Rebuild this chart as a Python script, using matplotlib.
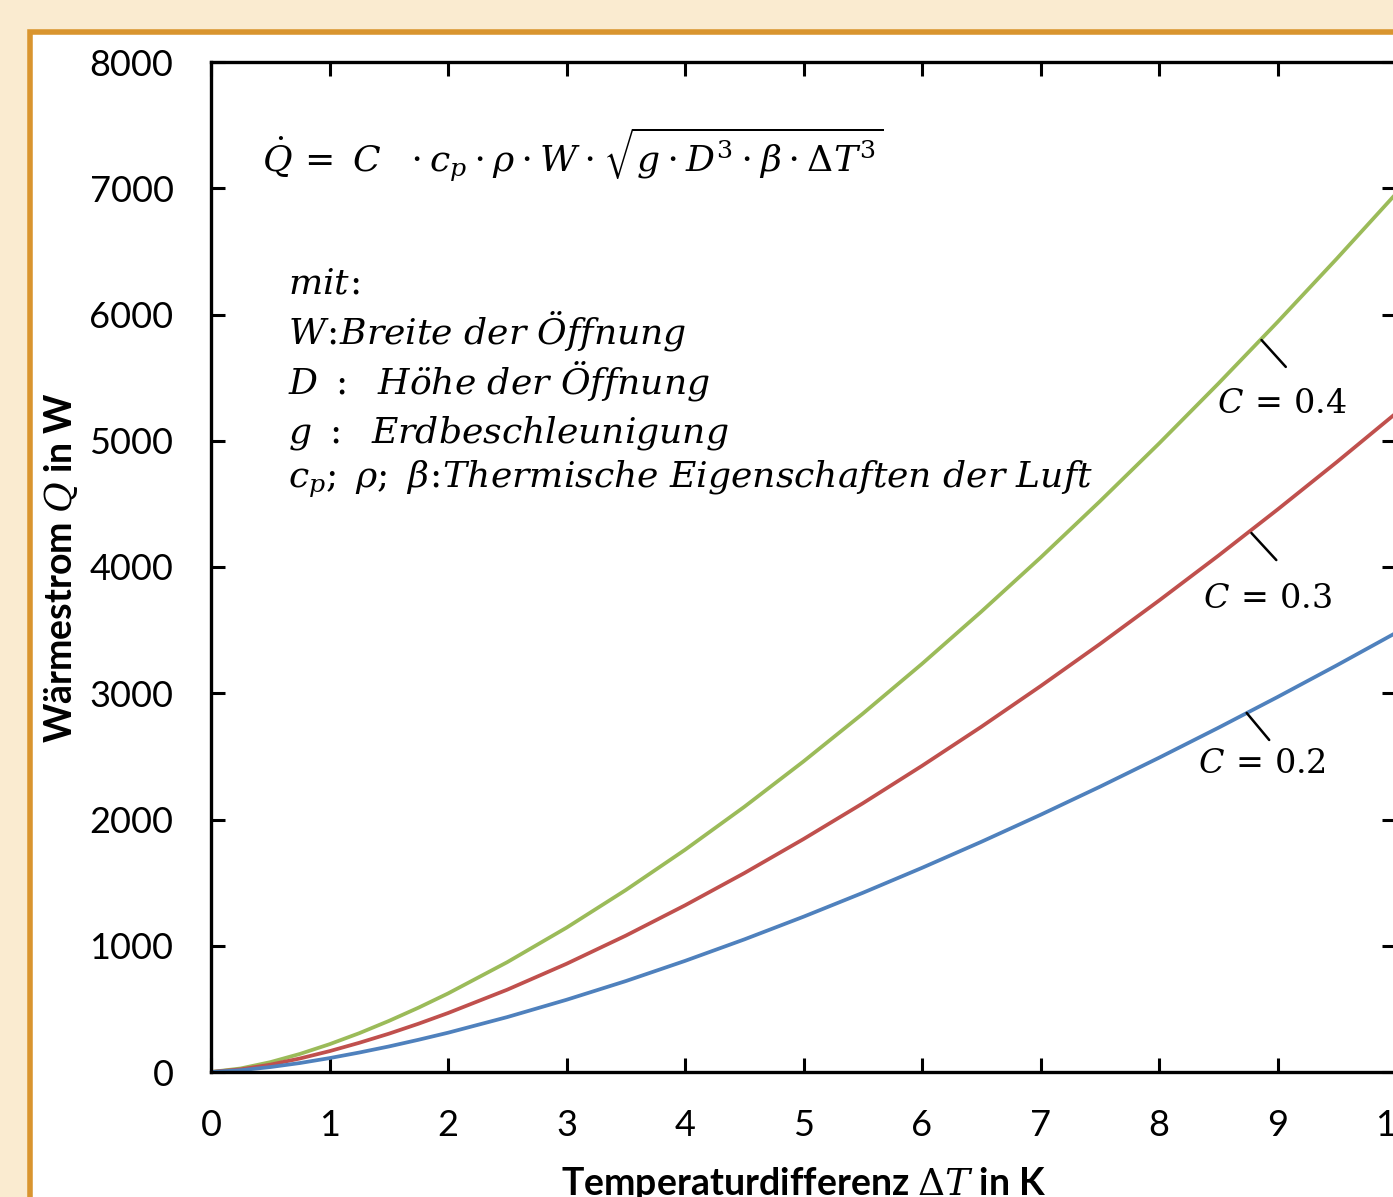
import matplotlib.pyplot as plt
from matplotlib.patches import Rectangle

plt.rcParams['font.family'] = ['Lato', 'DejaVu Sans']
plt.rcParams['mathtext.fontset'] = 'dejavuserif'

# temperature difference in K and heat flow in W
dT = [0, 0.25, 0.5, 0.75, 1, 1.25, 1.5, 1.75, 2, 2.5, 3, 3.5, 4, 4.5, 5, 5.5, 6, 6.5,
      7, 7.5, 8, 8.5, 9, 9.5, 10]
q_c04 = [0, 28, 78, 143, 220, 307, 404, 509, 622, 870, 1143, 1441, 1760, 2100, 2460,
         2838, 3233, 3646, 4074, 4519, 4978, 5452, 5940, 6442, 6957]
q_c03 = [0, 21, 58, 107, 165, 231, 303, 382, 467, 652, 857, 1080, 1320, 1575, 1845,
         2128, 2425, 2734, 3056, 3389, 3734, 4089, 4455, 4831, 5218]
q_c02 = [0, 14, 39, 71, 110, 154, 202, 255, 311, 435, 572, 720, 880, 1050, 1230,
         1419, 1617, 1823, 2037, 2259, 2489, 2726, 2970, 3221, 3479]

labels = [r'$C\,=\,0.4$', r'$C\,=\,0.3$', r'$C\,=\,0.2$']
label_pts = [(8.865, 5798), (8.78, 4269), (8.74, 2844)]
label_ends = [(9.07, 5585), (8.99, 4055), (8.93, 2630)]
label_txt = [(9.04, 5290), (8.915, 3745), (8.865, 2440)]

formula = r'$\dot{Q}\,=\ C\ \ \cdot c_p \cdot \rho \cdot W \cdot \sqrt{g \cdot D^3 \cdot \beta \cdot \Delta T^3}$'
legend_lines = [
    r'$mit\!:$',
    r'$W\!:\!Breite\ der\ Öffnung$',
    r'$D\ :\ \ Höhe\ der\ Öffnung$',
    r'$g\ :\ \ Erdbeschleunigung$',
    r'$c_p;\ \rho;\ \beta\!:\!Thermische\ Eigenschaften\ der\ Luft$',
]
legend_y = [6170, 5774, 5378, 4990, 4626]

fig = plt.figure(figsize=(13.93, 11.97), dpi=100)
fig.patch.set_facecolor('#faebd0')
fig.add_artist(Rectangle((29.5 / 1393, -0.1), 1.2, 1.1 - 32.5 / 1197,
                         transform=fig.transFigure, facecolor='white',
                         edgecolor='#d9952f', linewidth=4, zorder=0))

ax = fig.add_axes([211 / 1393, 1 - 1072 / 1197, 1185 / 1393, 1010 / 1197])
ax.set_facecolor('none')

ax.plot(dT, q_c04, color='#9bbb59', lw=2.7, solid_capstyle='round', solid_joinstyle='round')
ax.plot(dT, q_c03, color='#c0504d', lw=2.7, solid_capstyle='round', solid_joinstyle='round')
ax.plot(dT, q_c02, color='#4f81bd', lw=2.7, solid_capstyle='round', solid_joinstyle='round')

for lab, p, e, t in zip(labels, label_pts, label_ends, label_txt):
    ax.annotate('', xy=p, xytext=e, arrowprops=dict(arrowstyle='-', lw=1.8, color='black',
                                                    shrinkA=0, shrinkB=0))
    ax.text(t[0], t[1], lab, fontsize=24, ha='center', va='center')

ax.text(0.43, 7130, formula, fontsize=26, ha='left', va='baseline')
for s, y in zip(legend_lines, legend_y):
    ax.text(0.65, y, s, fontsize=26, ha='left', va='baseline')

ax.set_xlim(0, 10)
ax.set_ylim(0, 8000)
ax.set_xticks(range(0, 11))
ax.set_yticks(range(0, 8001, 1000))
ax.tick_params(direction='in', top=True, right=True, length=10, width=2.2,
               labelsize=26, pad=27)
for sp in ax.spines.values():
    sp.set_linewidth(2.4)

ax.set_xlabel(r'Temperaturdifferenz $\Delta T$ in K', fontsize=27, fontweight='bold', labelpad=16)
ax.set_ylabel(r'Wärmestrom $Q$ in W', fontsize=27, fontweight='bold', labelpad=7)

fig.savefig('out.png', dpi=100)
